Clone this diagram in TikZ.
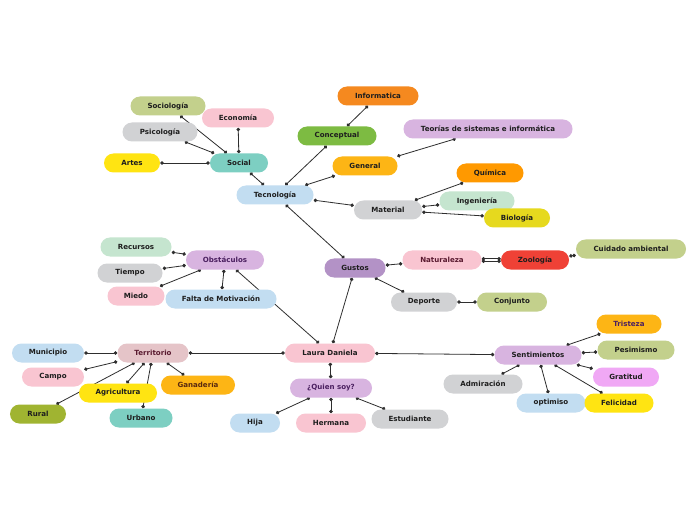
\documentclass[tikz,border=0pt]{standalone}
\usepackage{fontspec}
\setmainfont{DejaVu Sans}
\usetikzlibrary{arrows.meta,backgrounds}
\definecolor{cOrange}{HTML}{F5891F}
\definecolor{cGreen}{HTML}{7DBB42}
\definecolor{cLav}{HTML}{D8B4E0}
\definecolor{cAmber}{HTML}{FDB515}
\definecolor{cOrange2}{HTML}{FF9900}
\definecolor{cMint}{HTML}{C5E5CF}
\definecolor{cYel2}{HTML}{E6D91E}
\definecolor{cGray}{HTML}{D1D2D4}
\definecolor{cBlue}{HTML}{C2DDF1}
\definecolor{cTeal}{HTML}{7DCFC2}
\definecolor{cOlive}{HTML}{C3D08C}
\definecolor{cPink}{HTML}{F9C5D1}
\definecolor{cYel}{HTML}{FFE412}
\definecolor{cPurple}{HTML}{B392C6}
\definecolor{cRed}{HTML}{EF4136}
\definecolor{cDusty}{HTML}{E5C4C8}
\definecolor{cOliveD}{HTML}{A0B431}
\definecolor{cViolet}{HTML}{F0A8F5}
\definecolor{cTxt}{HTML}{1E1E1E}
\definecolor{cLine}{HTML}{2E2E2E}
\definecolor{cTPurple}{HTML}{4B2060}
\definecolor{cTMaroon}{HTML}{5A1A30}
\definecolor{cTBrown}{HTML}{5A2A10}
\tikzset{
  nd/.style={fill=#1, rounded corners=9.5bp, minimum height=19bp, inner xsep=2bp,
    font=\fontsize{7.1}{8}\selectfont\bfseries, text=cTxt},
  conn/.style={draw=cLine, line width=0.8bp, {Circle[length=3.5bp]}-{Circle[length=3.5bp]}},
}
\begin{document}
\begin{tikzpicture}[x=1bp,y=-1bp]
\useasboundingbox (0,0) rectangle (696,520);
% nodes
\node[nd=cOrange, minimum width=81bp] (inf) at (378,96) {Informatica};
\node[nd=cGreen, minimum width=79bp] (con) at (337,136) {Conceptual};
\node[nd=cLav, minimum width=169bp] (teo) at (488,129) {Teorías de sistemas e informática};
\node[nd=cAmber, minimum width=65bp] (gen) at (365,166) {General};
\node[nd=cOrange2, minimum width=67bp] (qui) at (490,173) {Química};
\node[nd=cMint, minimum width=75bp] (ing) at (477,201) {Ingeniería};
\node[nd=cYel2, minimum width=66bp] (bio) at (517,218) {Biología};
\node[nd=cGray, minimum width=68bp] (mat) at (388,210) {Material};
\node[nd=cBlue, minimum width=77bp] (tec) at (275,195) {Tecnología};
\node[nd=cTeal, minimum width=58bp] (soc) at (239,163) {Social};
\node[nd=cOlive, minimum width=75bp] (sol) at (168,106) {Sociología};
\node[nd=cPink, minimum width=72bp] (eco) at (238,118) {Economía};
\node[nd=cGray, minimum width=75bp] (psi) at (160,132) {Psicología};
\node[nd=cYel, minimum width=56bp] (art) at (132,163) {Artes};
\node[nd=cMint, minimum width=71bp] (rec) at (136,247) {Recursos};
\node[nd=cLav, minimum width=78bp, text=cTPurple] (obs) at (225,260) {Obstáculos};
\node[nd=cGray, minimum width=65bp] (tie) at (130,273) {Tiempo};
\node[nd=cPink, minimum width=57bp] (mie) at (136,296) {Miedo};
\node[nd=cBlue, minimum width=111bp] (fal) at (221,299) {Falta de Motivación};
\node[nd=cPurple, minimum width=61bp] (gus) at (355,268) {Gustos};
\node[nd=cPink, minimum width=79bp, text=cTMaroon] (nat) at (442,260) {Naturaleza};
\node[nd=cRed, minimum width=68bp] (zoo) at (535,260) {Zoología};
\node[nd=cOlive, minimum width=110bp] (cui) at (631,249) {Cuidado ambiental};
\node[nd=cGray, minimum width=66bp] (dep) at (424,302) {Deporte};
\node[nd=cOlive, minimum width=70bp] (conj) at (512,302) {Conjunto};
\node[nd=cPink, minimum width=90bp] (lau) at (330,353) {Laura Daniela};
\node[nd=cLav, minimum width=82bp, text=cTPurple] (qui2) at (331,388) {¿Quien soy?};
\node[nd=cBlue, minimum width=50bp] (hij) at (255,423) {Hija};
\node[nd=cPink, minimum width=70bp] (her) at (331,423) {Hermana};
\node[nd=cGray, minimum width=77bp] (est) at (410,419) {Estudiante};
\node[nd=cDusty, minimum width=71bp, text=cTMaroon] (ter) at (153,353) {Territorio};
\node[nd=cBlue, minimum width=72bp] (mun) at (48,353) {Municipio};
\node[nd=cPink, minimum width=62bp] (cam) at (53,377) {Campo};
\node[nd=cYel, minimum width=78bp] (agr) at (118,393) {Agricultura};
\node[nd=cAmber, minimum width=74bp, text=cTBrown] (gan) at (198,385) {Ganadería};
\node[nd=cOliveD, minimum width=56bp] (rur) at (38,414) {Rural};
\node[nd=cTeal, minimum width=63bp] (urb) at (141,418) {Urbano};
\node[nd=cLav, minimum width=87bp] (sen) at (538,355) {Sentimientos};
\node[nd=cAmber, minimum width=65bp, text=cTPurple] (tri) at (629,324) {Tristeza};
\node[nd=cOlive, minimum width=77bp] (pes) at (636,350) {Pesimismo};
\node[nd=cViolet, minimum width=66bp] (gra) at (626,377) {Gratitud};
\node[nd=cGray, minimum width=79bp] (adm) at (483,384) {Admiración};
\node[nd=cBlue, minimum width=69bp] (opt) at (551,403) {optimiso};
\node[nd=cYel, minimum width=69bp] (fel) at (619,403) {Felicidad};
% connectors
\begin{pgfonlayer}{background}
\fill[white] (0,0) rectangle (696,520);
\draw[conn] (con) -- (inf);
\draw[conn] (gen) -- (teo);
\draw[conn] (mat) -- (qui);
\draw[conn] (mat) -- (ing);
\draw[conn] (mat) -- (bio);
\draw[conn] (tec) -- (con);
\draw[conn] (tec) -- (gen);
\draw[conn] (tec) -- (mat);
\draw[conn] (tec) -- (soc);
\draw[conn] (soc) -- (sol);
\draw[conn] (soc) -- (eco);
\draw[conn] (soc) -- (psi);
\draw[conn] (soc) -- (art);
\draw[conn] (tec) -- (gus);
\draw[conn] (obs) -- (rec);
\draw[conn] (obs) -- (tie);
\draw[conn] (obs) -- (mie);
\draw[conn] (obs) -- (fal);
\draw[conn] (obs) -- (lau);
\draw[conn] (lau) -- (gus);
\draw[conn] (gus) -- (nat);
\draw[conn] ([yshift=-1.2bp]nat.east) -- ([yshift=-1.2bp]zoo.west);
\draw[conn] ([yshift=1.2bp]nat.east) -- ([yshift=1.2bp]zoo.west);
\draw[conn] (zoo) -- (cui);
\draw[conn] (gus) -- (dep);
\draw[conn] (dep) -- (conj);
\draw[conn] (lau) -- (qui2);
\draw[conn] (qui2) -- (hij);
\draw[conn] (qui2) -- (her);
\draw[conn] (qui2) -- (est);
\draw[conn] (lau) -- (ter);
\draw[conn] (ter) -- (mun);
\draw[conn] (ter) -- (cam);
\draw[conn] (ter) -- (agr);
\draw[conn] (ter) -- (gan);
\draw[conn] (ter) -- (rur);
\draw[conn] (ter) -- (urb);
\draw[conn] (lau) -- (sen);
\draw[conn] (sen) -- (tri);
\draw[conn] (sen) -- (pes);
\draw[conn] (sen) -- (gra);
\draw[conn] (sen) -- (adm);
\draw[conn] (sen) -- (opt);
\draw[conn] (sen) -- (fel);
\end{pgfonlayer}
\end{tikzpicture}
\end{document}
